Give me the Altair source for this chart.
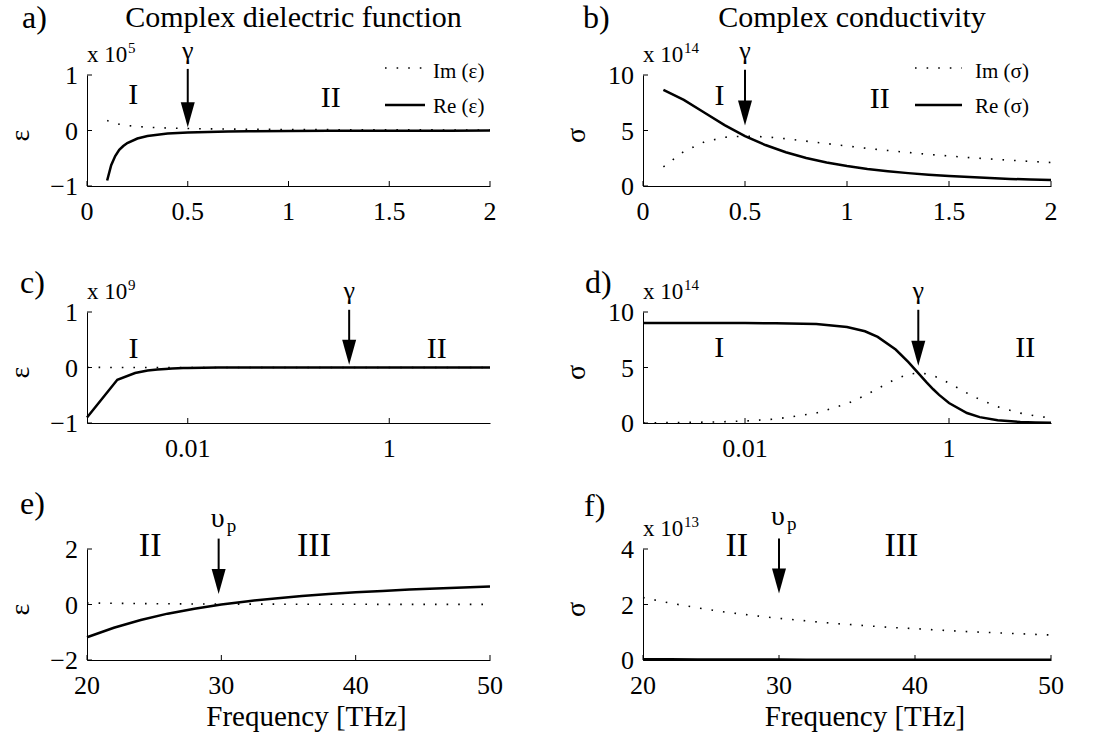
import altair as alt
import pandas as pd

SERIF = "Liberation Serif"
H = 111
W_LEFT, W_RIGHT = 403, 408

# ---------------- data ----------------
# a) complex dielectric function, 0-2 THz  (units of 1e5)
A_F = [0.10, 0.12, 0.14, 0.16, 0.18, 0.20, 0.25, 0.30, 0.35, 0.40, 0.50, 0.60, 0.70, 0.80, 1.00, 1.20, 1.40, 1.60, 1.80, 2.00]
A_RE = [-0.90, -0.625, -0.46, -0.35, -0.28, -0.225, -0.145, -0.10, -0.075, -0.056, -0.036, -0.025, -0.018, -0.014, -0.009, -0.006, -0.005, -0.0035, -0.003, -0.002]
A_IM = [0.18, 0.15, 0.13, 0.113, 0.10, 0.09, 0.072, 0.06, 0.051, 0.045, 0.036, 0.03, 0.026, 0.023, 0.018, 0.015, 0.013, 0.011, 0.010, 0.009]

# b) complex conductivity, 0-2 THz  (units of 1e14)
B_F = [0.1, 0.2, 0.3, 0.4, 0.5, 0.6, 0.7, 0.8, 0.9, 1.0, 1.1, 1.2, 1.3, 1.4, 1.5, 1.6, 1.7, 1.8, 1.9, 2.0]
B_RE = [8.65, 7.76, 6.62, 5.49, 4.50, 3.69, 3.04, 2.53, 2.12, 1.80, 1.54, 1.33, 1.16, 1.02, 0.90, 0.80, 0.72, 0.64, 0.58, 0.53]
B_IM = [1.73, 3.10, 3.97, 4.39, 4.50, 4.43, 4.26, 4.04, 3.82, 3.60, 3.39, 3.20, 3.02, 2.85, 2.70, 2.56, 2.44, 2.32, 2.21, 2.12]

# c) dielectric function, log axis 0.001-10 THz  (units of 1e9)
C_F = [0.001, 0.002, 0.003, 0.004, 0.005, 0.006, 0.007, 0.008, 0.009, 0.01, 0.02, 0.05, 0.1, 0.2, 0.5, 1, 2, 5, 10]
C_RE = [-0.90, -0.22, -0.10, -0.056, -0.036, -0.025, -0.018, -0.014, -0.011, -0.009, -0.002, -0.0004, -0.0001, 0, 0, 0, 0, 0, 0]
C_IM = [0.0018, 0.0009, 0.0006, 0.00045, 0.00036, 0.0003, 0.00026, 0.00023, 0.0002, 0.00018, 0.00009, 0.00004, 0.00002, 0.00001, 0, 0, 0, 0, 0]

# d) conductivity, log axis 0.001-10 THz  (units of 1e14)
D_F = [0.001, 0.002, 0.005, 0.01, 0.02, 0.05, 0.1, 0.15, 0.2, 0.3, 0.4, 0.5, 0.6, 0.7, 0.8, 1.0, 1.5, 2, 3, 5, 7, 10]
D_RE = [9.0, 9.0, 9.0, 9.0, 8.99, 8.91, 8.65, 8.26, 7.76, 6.62, 5.49, 4.50, 3.69, 3.04, 2.53, 1.80, 0.90, 0.53, 0.24, 0.09, 0.05, 0.02]
D_IM = [0.02, 0.04, 0.09, 0.18, 0.36, 0.89, 1.73, 2.48, 3.10, 3.97, 4.39, 4.50, 4.43, 4.26, 4.04, 3.60, 2.70, 2.12, 1.46, 0.89, 0.64, 0.45]

# e) dielectric function, 20-50 THz
E_F = [20, 22, 24, 26, 28, 30, 32, 34, 36, 38, 40, 42, 44, 46, 48, 50]
E_RE = [-1.18, -0.84, -0.56, -0.33, -0.15, 0.0, 0.12, 0.22, 0.31, 0.38, 0.44, 0.49, 0.54, 0.58, 0.61, 0.65]
E_IM = [0.056, 0.042, 0.033, 0.026, 0.020, 0.017, 0.014, 0.012, 0.010, 0.009, 0.007, 0.006, 0.005, 0.005, 0.004, 0.004]

# f) conductivity, 20-50 THz  (units of 1e13)
F_F = [20, 22, 24, 26, 28, 30, 32, 34, 36, 38, 40, 42, 44, 46, 48, 50]
F_RE = [0.030, 0.025, 0.021, 0.018, 0.016, 0.014, 0.012, 0.011, 0.010, 0.009, 0.008, 0.007, 0.007, 0.006, 0.006, 0.005]
F_IM = [2.25, 2.05, 1.88, 1.73, 1.61, 1.50, 1.41, 1.32, 1.25, 1.18, 1.13, 1.07, 1.02, 0.98, 0.94, 0.90]

# axis ticks and their labels
LIN_X_TICKS, LIN_X_LABELS = [0, 0.5, 1, 1.5, 2], ["0", "0.5", "1", "1.5", "2"]
LOG_X_TICKS, LOG_X_LABELS = [0.01, 1], ["0.01", "1"]
HI_X_TICKS, HI_X_LABELS = [20, 30, 40, 50], ["20", "30", "40", "50"]
EPS_Y_TICKS, EPS_Y_LABELS = [-1, 0, 1], ["\u22121", "0", "1"]
SIG_Y_TICKS, SIG_Y_LABELS = [0, 5, 10], ["0", "5", "10"]
E_Y_TICKS, E_Y_LABELS = [-2, 0, 2], ["\u22122", "0", "2"]
F_Y_TICKS, F_Y_LABELS = [0, 2, 4], ["0", "2", "4"]

# region labels (text, x, y in data units)
A_ROMAN = (["I", "II"], [0.23, 1.21], [0.47, 0.42])
B_ROMAN = (["I", "II"], [0.375, 1.16], [7.3, 7.05])
C_ROMAN = (["I", "II"], [0.0029, 2.96], [0.18, 0.18])
D_ROMAN = (["I", "II"], [0.0056, 5.6], [5.94, 5.94])
E_ROMAN = (["II", "III"], [24.7, 36.9], [1.75, 1.75])
F_ROMAN = (["II", "III"], [26.9, 39], [3.75, 3.75])

# arrows: x, top, tip, label y
A_ARROW = (0.5, 1.11, 0.06, 1.28)
B_ARROW = (0.5, 10.48, 5.45, 11.4)
C_ARROW = (0.40, 1.04, 0.05, 1.23)
D_ARROW = (0.5, 10.2, 5.15, 11.2)
E_ARROW = (29.8, 2.375, 0.38, 2.81)
F_ARROW = (30, 4.375, 2.4, 4.87)

HEAD = "M -0.56 -1 L 0.56 -1 L 0 1 Z"
ONE = pd.DataFrame({"k": [0]})


def deco(text, x, y, size, align="left", baseline="alphabetic", angle=0):
    return alt.Chart(ONE).mark_text(
        font=SERIF, fontSize=size, color="black", align=align, baseline=baseline, angle=angle, text=text
    ).encode(x=alt.value(x), y=alt.value(y))


def hrule(x1, x2, y, dotted=False):
    kw = dict(color="black", strokeWidth=2.5)
    if dotted:
        kw = dict(color="black", strokeWidth=1.6, strokeDash=[1.6, 10], strokeCap="butt")
    return alt.Chart(ONE).mark_rule(**kw).encode(x=alt.value(x1), x2=alt.value(x2), y=alt.value(y))


def build(p):
    W = p["W"]
    xs = alt.Scale(type=p["xtype"], domain=p["xdom"], nice=False, zero=False)
    ys = alt.Scale(type="linear", domain=p["ydom"], nice=False, zero=False)
    xax = alt.Axis(values=p["xticks"], ticks=False, grid=False, labels=False,
                   domainColor="black", domainWidth=1, title=None)
    yax = alt.Axis(values=p["yticks"], ticks=False, grid=False, labels=False,
                   domainColor="black", domainWidth=1, title=None)

    def X():
        return alt.X("x:Q", scale=xs, axis=xax, title=None)

    def Y():
        return alt.Y("y:Q", scale=ys, axis=yax, title=None)

    layers = []
    layers.append(alt.Chart(pd.DataFrame({"x": p["f"], "y": p["im"]})).mark_line(
        color="black", strokeWidth=1.6, strokeDash=[1.6, 10], strokeCap="butt").encode(x=X(), y=Y()))
    layers.append(alt.Chart(pd.DataFrame({"x": p["f"], "y": p["re"]})).mark_line(
        color="black", strokeWidth=2.5).encode(x=X(), y=Y()))
    # inward ticks
    layers.append(alt.Chart(pd.DataFrame({"x": p["xticks"]})).mark_rule(color="black", strokeWidth=1).encode(
        x=X(), y=alt.value(H), y2=alt.value(H - 5)))
    layers.append(alt.Chart(pd.DataFrame({"y": p["yticks"]})).mark_rule(color="black", strokeWidth=1).encode(
        y=Y(), x=alt.value(0), x2=alt.value(5)))
    # tick labels
    layers.append(alt.Chart(pd.DataFrame({"x": p["xticks"], "t": p["xlabels"]})).mark_text(
        font=SERIF, fontSize=26, color="black", align="center", baseline="alphabetic").encode(
        x=X(), y=alt.value(H + 34), text="t:N"))
    layers.append(alt.Chart(pd.DataFrame({"y": p["yticks"], "t": p["ylabels"]})).mark_text(
        font=SERIF, fontSize=26, color="black", align="right", baseline="alphabetic", dy=9).encode(
        y=Y(), x=alt.value(-9), text="t:N"))
    # arrow
    ax, atop, atip, alab = p["arrow"]
    layers.append(alt.Chart(pd.DataFrame({"x": [ax], "y": [atop], "y2": [atip]})).mark_rule(
        color="black", strokeWidth=2, y2Offset=-12).encode(x=X(), y=Y(), y2="y2:Q"))
    layers.append(alt.Chart(pd.DataFrame({"x": [ax], "y": [atip]})).mark_point(
        shape=HEAD, size=625, filled=True, color="black", opacity=1, strokeWidth=0, yOffset=-12.5).encode(x=X(), y=Y()))
    if p["sym"] == "γ":
        layers.append(alt.Chart(pd.DataFrame({"x": [ax], "y": [alab], "t": ["γ"]})).mark_text(
            font=SERIF, fontSize=26, color="black", align="center", baseline="alphabetic").encode(x=X(), y=Y(), text="t:N"))
    else:
        layers.append(alt.Chart(pd.DataFrame({"x": [ax], "y": [alab], "t": ["υ"]})).mark_text(
            font=SERIF, fontSize=28, color="black", align="center", baseline="alphabetic", dx=-1).encode(x=X(), y=Y(), text="t:N"))
        layers.append(alt.Chart(pd.DataFrame({"x": [ax], "y": [alab], "t": ["p"]})).mark_text(
            font=SERIF, fontSize=19, color="black", align="left", baseline="alphabetic", dx=8, dy=5).encode(x=X(), y=Y(), text="t:N"))
    # region labels
    rt, rx, ry = p["roman"]
    layers.append(alt.Chart(pd.DataFrame({"x": rx, "y": ry, "t": rt})).mark_text(
        font=SERIF, fontSize=p["romansize"], color="black", align="center", baseline="alphabetic").encode(x=X(), y=Y(), text="t:N"))
    # decorations
    lx, ly = p["letterpos"]
    layers.append(deco(p["letter"], lx, ly, 32))
    if p.get("title"):
        layers.append(deco(p["title"], W / 2 + 5, -48, 30, align="center"))
    if p.get("exp"):
        layers.append(deco("x 10", 0, -13, 23))
        layers.append(deco(p["exp"], 41, -22, 15))
    layers.append(deco(p["ylab"], -66, H / 2 + 5, 28, align="center", baseline="middle", angle=270))
    if p.get("legend"):
        lx0, lx1, tx = p["legend"]
        layers.append(hrule(lx0, lx1, -7, dotted=True))
        layers.append(hrule(lx0, lx1, 30))
        layers.append(deco("Im (" + p["ylab"] + ")", tx, -3, 21, baseline="middle"))
        layers.append(deco("Re (" + p["ylab"] + ")", tx, 32, 21, baseline="middle"))
    if p.get("xlabel"):
        layers.append(deco("Frequency [THz]", W / 2 + 18, H + 66, 29, align="center"))
    return alt.layer(*layers).properties(width=W, height=H)


panels = [
    dict(W=W_LEFT, f=A_F, re=A_RE, im=A_IM, xtype="linear", xdom=[0, 2], xticks=LIN_X_TICKS, xlabels=LIN_X_LABELS,
         ydom=[-1, 1], yticks=EPS_Y_TICKS, ylabels=EPS_Y_LABELS, arrow=A_ARROW, sym="γ", roman=A_ROMAN, romansize=30,
         letter="a)", letterpos=(-65, -47), title="Complex dielectric function", exp="5", ylab="ε",
         legend=(298, 338, 346)),
    dict(W=W_RIGHT, f=B_F, re=B_RE, im=B_IM, xtype="linear", xdom=[0, 2], xticks=LIN_X_TICKS, xlabels=LIN_X_LABELS,
         ydom=[0, 10], yticks=SIG_Y_TICKS, ylabels=SIG_Y_LABELS, arrow=B_ARROW, sym="γ", roman=B_ROMAN, romansize=30,
         letter="b)", letterpos=(-60, -47), title="Complex conductivity", exp="14", ylab="σ",
         legend=(272, 319, 332)),
    dict(W=W_LEFT, f=C_F, re=C_RE, im=C_IM, xtype="log", xdom=[0.001, 10], xticks=LOG_X_TICKS, xlabels=LOG_X_LABELS,
         ydom=[-1, 1], yticks=EPS_Y_TICKS, ylabels=EPS_Y_LABELS, arrow=C_ARROW, sym="γ", roman=C_ROMAN, romansize=30,
         letter="c)", letterpos=(-67, -19), exp="9", ylab="ε"),
    dict(W=W_RIGHT, f=D_F, re=D_RE, im=D_IM, xtype="log", xdom=[0.001, 10], xticks=LOG_X_TICKS, xlabels=LOG_X_LABELS,
         ydom=[0, 10], yticks=SIG_Y_TICKS, ylabels=SIG_Y_LABELS, arrow=D_ARROW, sym="γ", roman=D_ROMAN, romansize=30,
         letter="d)", letterpos=(-58, -19), exp="14", ylab="σ"),
    dict(W=W_LEFT, f=E_F, re=E_RE, im=E_IM, xtype="linear", xdom=[20, 50], xticks=HI_X_TICKS, xlabels=HI_X_LABELS,
         ydom=[-2, 2], yticks=E_Y_TICKS, ylabels=E_Y_LABELS, arrow=E_ARROW, sym="υ", roman=E_ROMAN, romansize=34,
         letter="e)", letterpos=(-67, -35), ylab="ε", xlabel=True),
    dict(W=W_RIGHT, f=F_F, re=F_RE, im=F_IM, xtype="linear", xdom=[20, 50], xticks=HI_X_TICKS, xlabels=HI_X_LABELS,
         ydom=[0, 4], yticks=F_Y_TICKS, ylabels=F_Y_LABELS, arrow=F_ARROW, sym="υ", roman=F_ROMAN, romansize=34,
         letter="f)", letterpos=(-59, -33), exp="13", ylab="σ", xlabel=True),
]

charts = [build(p) for p in panels]
chart = alt.concat(*charts, columns=2, spacing={"row": 126, "column": 153}, bounds="flush").properties(
    autosize=alt.AutoSizeParams(type="none"),
    padding={"left": 87, "top": 75, "right": 1007, "bottom": 671},
    background="white",
).configure_view(strokeOpacity=0)

chart.save("out.html", embed_options={"renderer": "svg", "actions": False})
